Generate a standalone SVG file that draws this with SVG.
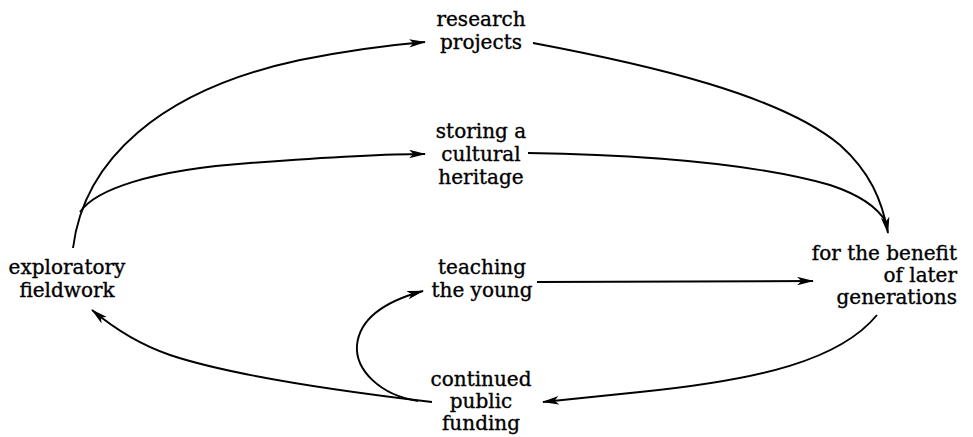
<svg xmlns="http://www.w3.org/2000/svg" width="973" height="437" viewBox="0 0 973 437">
<defs>
<marker id="ah" viewBox="0 0 16 8" markerWidth="17" markerHeight="8.5" refX="15" refY="4" orient="auto" markerUnits="userSpaceOnUse">
<path d="M0,0 L16,4 L0,8 L4,4 z" fill="#000"/>
</marker>
<style>
text{font-family:"DejaVu Serif","Liberation Serif",serif;font-size:20px;fill:#000;stroke:#000;stroke-width:0.35}
.c{text-anchor:middle}
.r{text-anchor:end}
.e{fill:none;stroke:#000;stroke-width:1.9}
.a{marker-end:url(#ah)}
</style>
</defs>
<rect width="973" height="437" fill="#fff"/>
<g id="connectors">
<path class="e a" d="M73,248 C84,160 160,90 300,60 C350,50 390,45 425,42"/>
<path class="e a" d="M80,212 C95,190 150,170 250,163 C330,157 390,154 425,154"/>
<path class="e a" d="M533,43 C650,65 780,95 840,145 C870,172 882,200 888,233"/>
<path class="e" d="M528,153 C650,155 760,165 830,185 C860,195 878,208 886,222"/>
<path class="e a" d="M537,282 L813,281"/>
<path class="e a" d="M877,315 C840,360 760,380 640,392 C600,396 570,399 543,402"/>
<path class="e a" d="M432,402 C330,390 230,375 170,355 C135,343 110,325 92,310"/>
<path class="e a" d="M418,401 C380,395 355,370 357,345 C360,315 390,300 423,291"/>
</g>
<g id="research"><text class="c" x="481" y="26">research</text><text class="c" x="481" y="49">projects</text></g>
<g id="storing"><text class="c" x="481" y="138">storing a</text><text class="c" x="481" y="161">cultural</text><text class="c" x="481" y="184">heritage</text></g>
<g id="exploratory"><text class="c" x="67" y="274">exploratory</text><text class="c" x="67" y="297">fieldwork</text></g>
<g id="teaching"><text class="c" x="482" y="274">teaching</text><text class="c" x="482" y="297">the young</text></g>
<g id="benefit"><text class="r" x="957" y="260">for the benefit</text><text class="r" x="957" y="282">of later</text><text class="r" x="957" y="304">generations</text></g>
<g id="funding"><text class="c" x="481" y="386">continued</text><text class="c" x="481" y="408">public</text><text class="c" x="481" y="430">funding</text></g>
</svg>
